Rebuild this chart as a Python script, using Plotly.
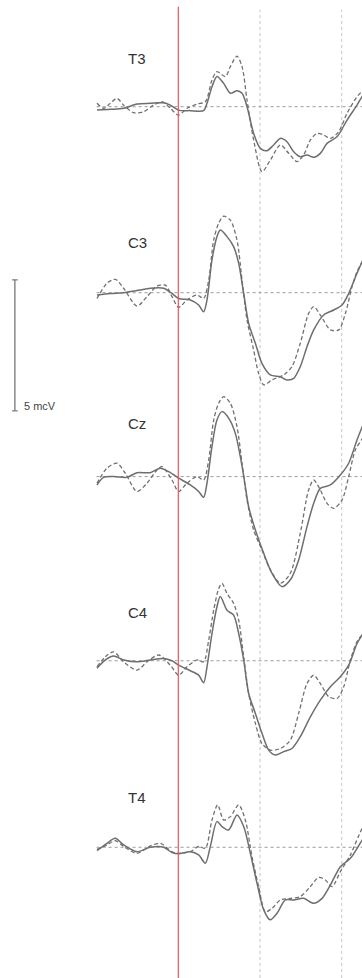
import plotly.graph_objects as go

# ---- data (time in ms, amplitude in µV) ----
channels = ["T3", "C3", "Cz", "C4", "T4"]

t3_solid_t = [-99.5, -83.2, -66.9, -50.6, -34.3, -17.9, -9.8, 0.4, 14.7, 31.0, 35.1, 41.2, 47.3, 55.5, 63.7, 71.8, 78.0, 84.1, 92.2, 100.4, 108.5, 116.7, 124.9, 133.0, 141.2, 149.3, 157.5, 165.7, 173.8, 182.0, 194.2, 206.5, 218.7, 225.2, 232.0]
t3_solid_v = [-0.13, -0.10, -0.06, 0.10, 0.13, 0.15, 0.06, -0.13, -0.15, -0.15, 0.13, 0.76, 1.15, 0.89, 0.51, 0.61, 0.51, 0.0, -1.02, -1.59, -1.68, -1.46, -1.21, -1.34, -1.72, -1.91, -1.84, -1.93, -1.78, -1.40, -1.15, -0.51, 0.06, 0.40, 0.65]
t3_dash_t = [-99.5, -91.4, -83.2, -75.1, -66.9, -54.7, -42.4, -30.2, -20.0, -9.8, 0.4, 10.6, 22.9, 33.1, 41.2, 47.3, 57.5, 63.7, 71.8, 78.0, 84.1, 92.2, 102.4, 112.6, 124.9, 135.1, 145.3, 153.4, 161.6, 169.7, 177.9, 186.1, 196.3, 206.5, 218.7, 225.2, 232.0]
t3_dash_v = [0.13, -0.06, 0.13, 0.32, 0.06, -0.23, -0.19, 0.06, 0.19, -0.06, -0.32, -0.06, 0.10, 0.19, 1.02, 1.34, 1.15, 1.53, 1.93, 1.53, 0.25, -1.27, -2.48, -2.04, -1.46, -1.78, -2.10, -1.84, -1.27, -1.02, -1.08, -1.21, -0.95, -0.25, 0.38, 0.60, 0.80]

c3_solid_t = [-99.5, -83.2, -66.9, -50.6, -34.3, -17.9, -7.7, 0.4, 14.7, 24.9, 31.0, 35.1, 41.2, 47.3, 51.4, 59.6, 67.7, 73.9, 80.0, 86.1, 94.3, 102.4, 112.6, 124.9, 133.0, 141.2, 149.3, 157.5, 165.7, 177.9, 190.2, 200.4, 208.5, 218.7, 225.2, 232.0]
c3_solid_v = [-0.09, -0.03, 0.0, 0.08, 0.17, 0.17, -0.03, -0.22, -0.28, -0.47, -0.73, -0.28, 1.25, 2.14, 2.39, 2.14, 1.76, 1.12, -0.03, -1.17, -1.93, -2.70, -3.14, -3.21, -3.33, -3.27, -2.82, -2.06, -1.42, -0.85, -0.66, -0.47, -0.03, 0.74, 1.20, 1.60]
c3_dash_t = [-99.5, -87.3, -77.1, -66.9, -50.6, -38.3, -26.1, -15.9, -7.7, 0.4, 10.6, 22.9, 31.0, 37.2, 43.3, 49.4, 55.5, 63.7, 71.8, 78.0, 84.1, 92.2, 98.3, 104.5, 114.7, 128.9, 139.1, 149.3, 159.5, 165.7, 173.8, 186.1, 196.3, 204.5, 212.6, 218.7, 225.2, 232.0]
c3_dash_v = [-0.22, 0.36, 0.51, 0.17, -0.51, -0.15, 0.25, 0.29, -0.15, -0.56, -0.28, -0.09, -0.22, 0.48, 2.01, 2.65, 2.92, 2.77, 2.01, 0.48, -1.04, -2.19, -3.08, -3.52, -3.33, -3.14, -2.82, -1.93, -0.79, -0.53, -0.85, -1.42, -1.42, -0.79, 0.23, 0.80, 1.18, 1.50]

cz_solid_t = [-99.5, -91.4, -79.1, -62.8, -50.6, -34.3, -22.0, -11.8, 0.4, 14.7, 24.9, 31.0, 35.1, 41.2, 47.3, 53.5, 61.6, 69.8, 75.9, 80.8, 86.1, 94.3, 104.5, 114.7, 126.9, 137.1, 147.3, 157.5, 165.7, 173.8, 186.1, 198.3, 208.5, 218.7, 225.2, 232.0]
cz_solid_v = [-0.32, -0.03, 0.0, -0.03, 0.15, 0.15, 0.32, 0.19, -0.06, -0.32, -0.57, -0.79, -0.25, 1.15, 2.16, 2.48, 2.23, 1.65, 0.76, -0.13, -1.15, -2.04, -2.93, -3.69, -4.20, -3.94, -3.18, -1.91, -1.02, -0.45, -0.32, 0.06, 0.51, 1.40, 1.91, 2.40]
cz_dash_t = [-99.5, -87.3, -75.1, -64.9, -50.6, -38.3, -26.1, -20.0, -7.7, 0.4, 10.6, 22.9, 31.0, 37.2, 43.3, 49.4, 55.5, 63.7, 71.8, 78.0, 84.1, 92.2, 102.4, 112.6, 124.9, 137.1, 149.3, 159.5, 165.7, 173.8, 182.0, 190.2, 200.4, 208.5, 216.7, 225.2, 232.0]
cz_dash_v = [-0.25, 0.32, 0.51, 0.13, -0.57, -0.25, 0.25, 0.38, -0.13, -0.57, -0.25, 0.0, -0.13, 0.64, 2.16, 2.80, 3.05, 2.80, 1.91, 0.51, -0.89, -2.04, -2.80, -3.56, -4.07, -3.69, -2.16, -0.51, -0.13, -0.51, -1.02, -1.21, -0.89, 0.0, 1.02, 1.45, 1.80]

c4_solid_t = [-99.5, -89.3, -79.1, -66.9, -50.6, -34.3, -17.9, -7.7, 0.4, 14.7, 24.9, 31.0, 35.1, 41.2, 47.3, 51.4, 59.6, 67.7, 73.9, 80.0, 86.1, 94.3, 102.4, 110.6, 118.8, 129.0, 139.1, 149.3, 161.6, 173.8, 186.1, 198.3, 208.5, 218.7, 225.2, 232.0]
c4_solid_v = [-0.29, 0.03, 0.18, 0.03, -0.04, 0.03, 0.09, 0.0, -0.17, -0.38, -0.55, -0.84, -0.23, 1.04, 2.06, 2.45, 1.93, 1.74, 1.04, 0.03, -1.25, -2.01, -2.77, -3.41, -3.60, -3.47, -3.35, -2.90, -2.14, -1.50, -0.99, -0.61, -0.17, 0.66, 1.00, 1.30]
c4_dash_t = [-99.5, -89.3, -79.1, -66.9, -50.6, -38.3, -23.9, -9.8, 0.4, 10.6, 22.9, 31.0, 37.2, 43.3, 49.4, 53.5, 59.6, 67.7, 73.9, 80.0, 86.1, 94.3, 102.4, 112.6, 124.9, 137.1, 147.3, 157.5, 165.7, 173.8, 184.0, 194.2, 202.4, 210.6, 218.7, 225.2, 232.0]
c4_dash_v = [-0.23, 0.15, 0.34, -0.04, -0.36, -0.04, 0.22, -0.17, -0.55, -0.23, 0.03, -0.04, 0.79, 1.93, 2.75, 2.95, 2.57, 2.19, 1.55, 0.15, -1.25, -2.39, -3.16, -3.41, -3.35, -3.03, -2.01, -0.87, -0.55, -0.87, -1.37, -1.44, -0.99, 0.03, 0.73, 1.00, 1.30]

t4_solid_t = [-99.5, -87.3, -77.1, -66.9, -50.6, -34.3, -17.9, -7.7, 0.4, 14.7, 24.9, 33.1, 39.2, 47.3, 53.5, 61.6, 71.8, 80.0, 88.2, 96.3, 104.5, 112.6, 120.8, 131.0, 141.2, 153.4, 165.7, 175.9, 186.1, 198.3, 210.6, 225.2, 232.0]
t4_solid_v = [-0.13, 0.15, 0.34, 0.09, -0.17, 0.0, 0.0, -0.20, -0.25, -0.17, -0.29, -0.61, 0.03, 0.98, 0.79, 0.66, 1.23, 0.79, -0.23, -1.37, -2.39, -2.77, -2.52, -2.01, -2.01, -1.95, -2.14, -1.95, -1.44, -0.74, -0.42, 0.28, 0.55]
t4_dash_t = [-99.5, -87.3, -77.1, -66.9, -50.6, -34.3, -22.0, -7.7, 0.4, 14.7, 24.9, 33.1, 41.2, 48.2, 55.5, 63.7, 73.9, 82.0, 90.2, 98.3, 106.5, 114.7, 124.9, 137.1, 149.3, 161.6, 171.8, 180.0, 188.2, 198.3, 210.6, 225.2, 232.0]
t4_dash_v = [-0.08, 0.09, 0.25, 0.03, -0.23, 0.05, 0.15, -0.17, -0.23, -0.17, 0.03, -0.04, 1.04, 1.62, 1.04, 1.17, 1.62, 1.04, -0.36, -1.50, -2.46, -2.33, -2.01, -1.95, -1.88, -1.50, -1.15, -1.25, -1.50, -0.93, -0.29, 0.73, 1.00]

solid_t = [t3_solid_t, c3_solid_t, cz_solid_t, c4_solid_t, t4_solid_t]
solid_v = [t3_solid_v, c3_solid_v, cz_solid_v, c4_solid_v, t4_solid_v]
dash_t = [t3_dash_t, c3_dash_t, cz_dash_t, c4_dash_t, t4_dash_t]
dash_v = [t3_dash_v, c3_dash_v, cz_dash_v, c4_dash_v, t4_dash_v]

grid_times = [100, 200]
scale_uv = 5
scale_label = "5 mcV"

# ---- layout constants ----
offsets = [0.0, -7.10, -14.12, -21.15, -28.27]   # vertical stacking of channels (µV)
label_dy = [-1.83, -1.90, -2.02, -1.84, -1.91]    # label position above baseline (µV)
X_RANGE = [-218.2, 224.8]
Y_RANGE = [-33.26, 4.073]
LINE_COL = "#6e6e6e"

fig = go.Figure()

for i, ch in enumerate(channels):
    off = offsets[i]
    fig.add_shape(type="line", xref="x", yref="y", x0=-100, x1=X_RANGE[1], y0=off, y1=off,
                  line=dict(color="#9a9a9a", width=1, dash="dot"), layer="below")
    fig.add_trace(go.Scatter(x=dash_t[i], y=[v + off for v in dash_v[i]], mode="lines",
                             line=dict(color="#707070", width=1.3, dash="4px,2.5px", shape="spline", smoothing=0.8),
                             hoverinfo="skip", showlegend=False))
    fig.add_trace(go.Scatter(x=solid_t[i], y=[v + off for v in solid_v[i]], mode="lines",
                             line=dict(color=LINE_COL, width=1.5, shape="spline", smoothing=0.8),
                             hoverinfo="skip", showlegend=False))
    fig.add_annotation(x=-50, y=off - label_dy[i], text=ch, showarrow=False,
                       xanchor="center", yanchor="middle",
                       font=dict(family="Liberation Sans, Arial, sans-serif", size=15, color="#333333"))

for gt in grid_times:
    fig.add_shape(type="line", xref="x", yref="paper", x0=gt, x1=gt, y0=0, y1=0.99,
                  line=dict(color="#c4c4c4", width=1, dash="dot"), layer="below")

fig.add_shape(type="line", xref="x", yref="paper", x0=0, x1=0, y0=0, y1=0.993,
              line=dict(color="#ee5555", width=1.2))

# scale bar
sb_top = -6.61
fig.add_trace(go.Scatter(x=[-200, -200], y=[sb_top, sb_top - scale_uv], mode="lines+markers",
                         line=dict(color="#777777", width=1.3),
                         marker=dict(symbol="line-ew", size=4, line=dict(color="#777777", width=1.2)),
                         hoverinfo="skip", showlegend=False))
fig.add_annotation(x=-191, y=sb_top - scale_uv + 0.2, text=scale_label, showarrow=False,
                   xanchor="left", yanchor="middle",
                   font=dict(family="Liberation Sans, Arial, sans-serif", size=11, color="#444444"))

fig.update_layout(width=362, height=978, margin=dict(l=0, r=0, t=0, b=0, pad=0),
                  paper_bgcolor="white", plot_bgcolor="white", showlegend=False)
fig.update_xaxes(range=X_RANGE, visible=False, showgrid=False, zeroline=False)
fig.update_yaxes(range=Y_RANGE, visible=False, showgrid=False, zeroline=False)

fig.write_html("out.html",
               config={"displayModeBar": False, "staticPlot": True},
               post_script="document.body.style.margin='0';document.body.style.overflow='hidden';")
